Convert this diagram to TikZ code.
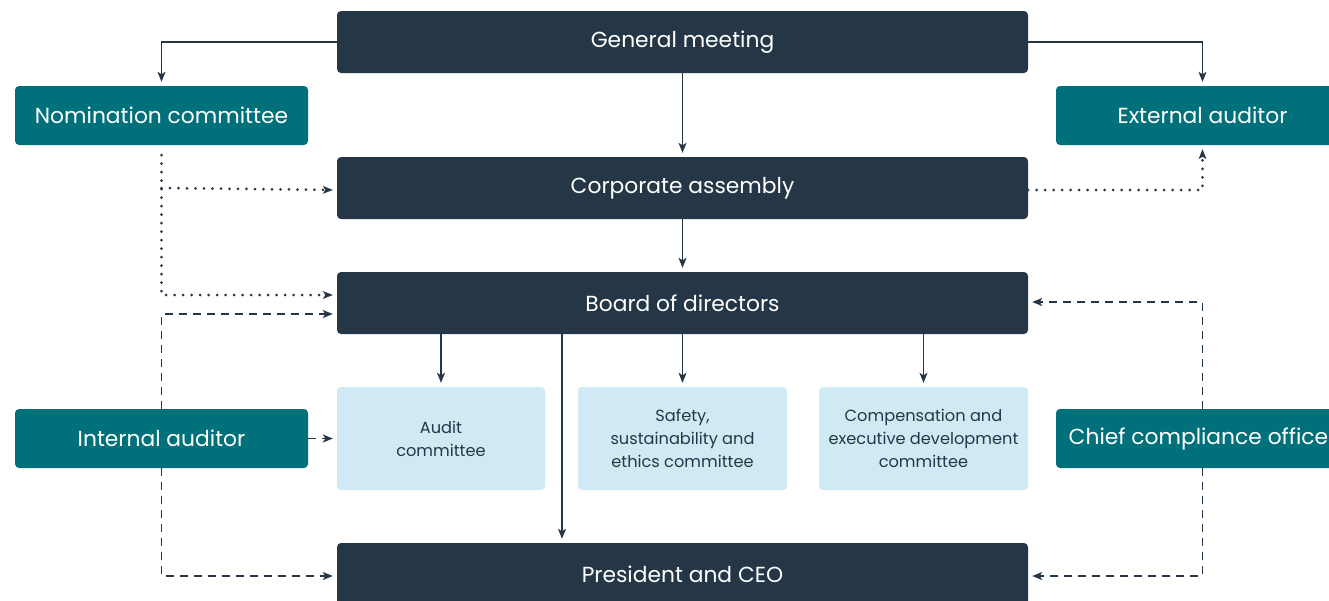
\documentclass[tikz,border=0pt]{standalone}
\usepackage{fontspec}
\setmainfont{Poppins}
\usetikzlibrary{arrows.meta,calc}
\definecolor{navy}{HTML}{253746}
\definecolor{teal}{HTML}{00707A}
\definecolor{lightb}{HTML}{CFEAF4}
\tikzset{
  darkbox/.style={fill=navy,rounded corners=4pt,text=white,minimum width=691pt,minimum height=62pt,font=\fontsize{21.8}{25}\selectfont,inner sep=0pt},
  tealbox/.style={fill=teal,rounded corners=4pt,text=white,minimum width=293pt,minimum height=59pt,font=\fontsize{21.8}{25}\selectfont,inner sep=0pt},
  lightbox/.style={fill=lightb,rounded corners=4pt,text=navy,minimum width=208pt,minimum height=103pt,font=\fontsize{16.2}{23}\selectfont,align=center,inner sep=0pt},
  conn/.style={draw=navy,line width=1.3pt,-{Stealth[length=10pt,width=8pt,inset=2.5pt]},shorten >=4pt},
  dotconn/.style={conn,line cap=round,dash pattern=on 0pt off 8.5pt,line width=3pt,-{Stealth[length=10pt,width=8pt,inset=2.5pt,line cap=butt,line width=0pt]}},
  dashconn/.style={conn,dash pattern=on 8pt off 6pt,line width=1.4pt},
}
\begin{document}
\begin{tikzpicture}[x=1pt,y=-1pt]
\useasboundingbox (0,0) rectangle (1329,600);
\clip (0,0) rectangle (1329,600);
\node[darkbox] (gm) at (682.5,42) {General meeting};
\node[darkbox] (ca) at (682.5,188) {Corporate assembly};
\node[darkbox] (bd) at (682.5,303) {Board of directors};
\node[darkbox] (pc) at (682.5,574) {President and CEO};
\node[tealbox] (nc) at (161.5,115.5) {Nomination committee};
\node[tealbox] (ea) at (1202.5,115.5) {External auditor};
\node[tealbox] (ia) at (161.5,438.5) {Internal auditor};
\node[tealbox] (cco) at (1202.5,438.5) {Chief compliance officer};
\node[lightbox] (ac) at (441,438.5) {Audit\\committee};
\node[lightbox,minimum width=209pt] (sc) at (682.5,438.5) {Safety,\\sustainability and\\ethics committee};
\node[lightbox,minimum width=209pt] (cc) at (923.5,438.5) {Compensation and\\executive development\\committee};
% solid
\draw[conn] (gm.west) -| (nc.north);
\draw[conn] (gm.east) -| (ea.north);
\draw[conn] (gm.south) -- (ca.north);
\draw[conn] (ca.south) -- (bd.north);
\draw[conn] (bd.south -| ac.north) -- (ac.north);
\draw[conn] (bd.south -| sc.north) -- (sc.north);
\draw[conn] (bd.south -| cc.north) -- (cc.north);
\coordinate (ceoin) at ($(bd.south)+(-120.5pt,0)$);
\draw[conn] (ceoin) -- (ceoin |- pc.north);
% dotted
\coordinate (ncs) at ($(nc.south)+(0,-10pt)$);
\draw[dotconn] (ncs) |- ($(bd.west)+(0,8pt)$);
\draw[dotconn] (ncs |- ca.west) -- ($(ca.west)+(0,-2pt)$);
\draw[dotconn] ($(ca.east)+(0,-2pt)$) -| (ea.south);
% dashed
\draw[dashconn] (ia.north) |- ($(bd.west)+(0,-11pt)$);
\draw[dashconn] (ia.south) |- ($(pc.west)+(0,-2pt)$);
\draw[dashconn] (ia.east) -- (ac.west);
\draw[dashconn] (cco.north) |- ($(bd.east)+(0,1pt)$);
\draw[dashconn] (cco.south) |- ($(pc.east)+(0,-2pt)$);
\end{tikzpicture}
\end{document}
